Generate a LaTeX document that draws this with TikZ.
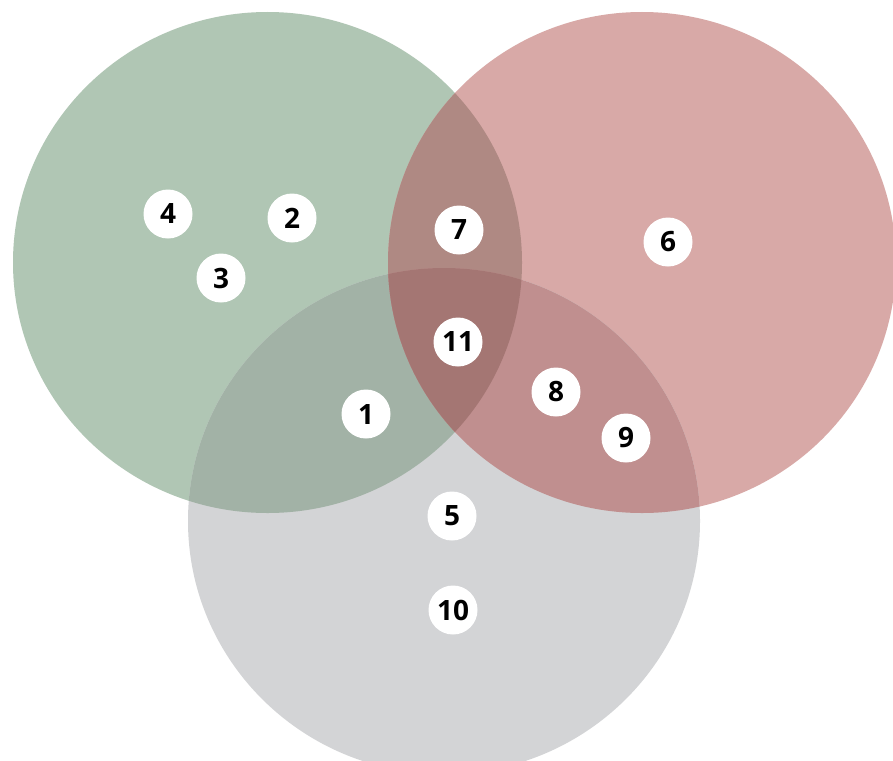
\documentclass[tikz,border=0pt]{standalone}
\usepackage{fontspec}
\setmainfont{Open Sans}
\definecolor{cG}{HTML}{B0C6B4}
\definecolor{cR}{HTML}{D8A9A7}
\definecolor{cY}{HTML}{D3D4D6}
\definecolor{cGY}{HTML}{A2B2A6}
\definecolor{cGR}{HTML}{AF8983}
\definecolor{cRY}{HTML}{C08F8F}
\definecolor{cAll}{HTML}{A47673}
\tikzset{
  lbl/.style={circle, fill=white, minimum size=49pt, inner sep=0pt,
    font=\fontsize{28}{28}\selectfont\bfseries, text=black}
}
\begin{document}
\begin{tikzpicture}[x=1pt,y=-1pt]
\clip (0,0) rectangle (893,760);
\fill[white] (0,0) rectangle (893,760);
\coordinate (G) at (267.5,262.5);
\coordinate (R) at (642,262.5);
\coordinate (Y) at (444,521);
\tikzset{
  shG/.style={x radius=254.5, y radius=250.5},
  shR/.style={x radius=254, y radius=250.5},
  shY/.style={x radius=256, y radius=253}
}
\fill[cG] (G) ellipse[shG];
\fill[cR] (R) ellipse[shR];
\fill[cY] (Y) ellipse[shY];
\begin{scope}
  \clip (G) ellipse[shG];
  \fill[cGY] (Y) ellipse[shY];
  \fill[cGR] (R) ellipse[shR];
\end{scope}
\begin{scope}
  \clip (R) ellipse[shR];
  \fill[cRY] (Y) ellipse[shY];
\end{scope}
\begin{scope}
  \clip (G) ellipse[shG];
  \clip (R) ellipse[shR];
  \fill[cAll] (Y) ellipse[shY];
\end{scope}
\node[lbl] (n4) at (168,214) {4};
\node[lbl] (n2) at (292,218) {2};
\node[lbl] (n3) at (221,278) {3};
\node[lbl] (n7) at (459,230) {7};
\node[lbl] (n6) at (668,242) {6};
\node[lbl] (n11) at (458,342) {11};
\node[lbl] (n1) at (366,414) {1};
\node[lbl] (n8) at (556,392) {8};
\node[lbl] (n9) at (626,438) {9};
\node[lbl] (n5) at (452,516) {5};
\node[lbl] (n10) at (453,610) {10};
\end{tikzpicture}
\end{document}
